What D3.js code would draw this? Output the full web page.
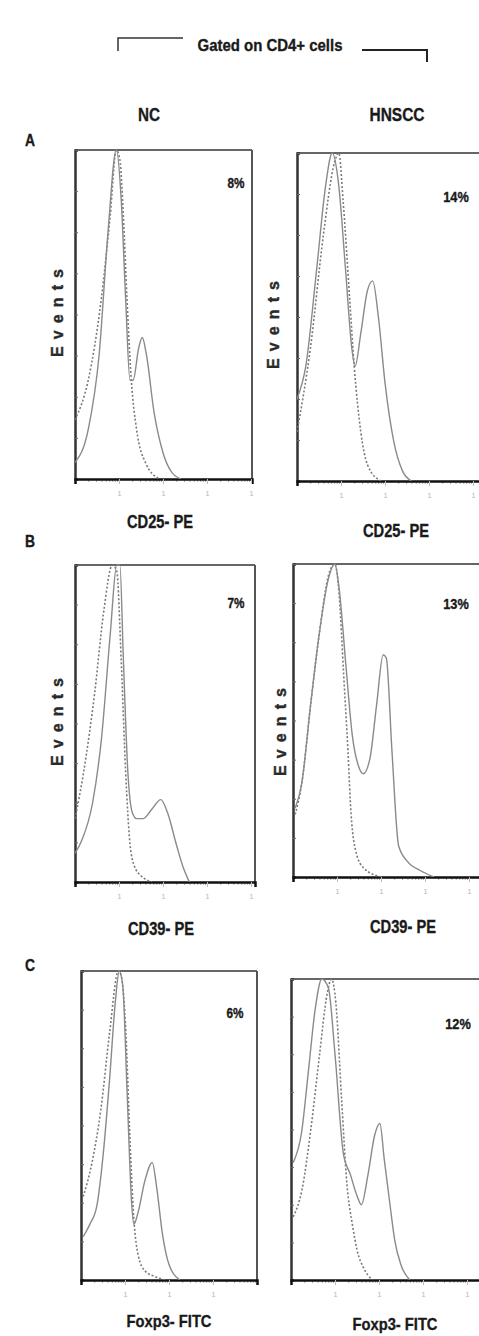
<!DOCTYPE html>
<html><head><meta charset="utf-8">
<script src="https://cdn.jsdelivr.net/npm/d3@7"></script>
<style>html,body{margin:0;padding:0;background:#fff;}svg{display:block;}</style>
</head><body>
<script>
// ---------- DATA (x = log10 fluorescence decades, y = % of peak events) ----------
const rows = ["A", "B", "C"];
const groups = ["NC", "HNSCC"];
const markers = ["CD25- PE", "CD39- PE", "Foxp3- FITC"];
const percents = [["8%", "14%"], ["7%", "13%"], ["6%", "12%"]];
const decadeTicks = [0, 1, 2, 3, 4];

// A - NC
const aNcStainedX = [0, 0.3, 0.55, 0.75, 0.94, 1.05, 1.15, 1.25, 1.32, 1.45, 1.53, 1.62, 1.8, 2.0, 2.2, 2.41];
const aNcStainedY = [5, 15, 38, 75, 100, 85, 55, 30, 30, 40, 43, 38, 20, 8, 2, 0];
const aNcIsoX = [0, 0.3, 0.6, 0.8, 0.94, 1.02, 1.1, 1.18, 1.28, 1.4, 1.6, 1.92];
const aNcIsoY = [18, 30, 55, 80, 100, 97, 80, 55, 30, 15, 5, 0];
// A - HNSCC
const aHnStainedX = [0, 0.2, 0.45, 0.65, 0.8, 0.95, 1.1, 1.25, 1.32, 1.45, 1.6, 1.72, 1.85, 2.0, 2.2, 2.4, 2.6];
const aHnStainedY = [25, 35, 65, 90, 100, 90, 65, 40, 35, 45, 58, 61, 50, 30, 12, 3, 0];
const aHnIsoX = [0, 0.3, 0.6, 0.85, 0.95, 1.05, 1.2, 1.3, 1.45, 1.6, 1.9];
const aHnIsoY = [15, 40, 75, 97, 100, 85, 55, 35, 15, 5, 0];
// B - NC
const bNcStainedX = [0, 0.15, 0.4, 0.6, 0.8, 0.95, 1.02, 1.1, 1.2, 1.3, 1.4, 1.55, 1.75, 1.95, 2.1, 2.3, 2.45, 2.6];
const bNcStainedY = [9, 13, 25, 45, 78, 100, 100, 70, 35, 22, 20, 20, 23, 26, 22, 12, 5, 0];
const bNcIsoX = [0, 0.2, 0.45, 0.65, 0.85, 0.95, 1.05, 1.15, 1.25, 1.35, 1.5, 1.75];
const bNcIsoY = [20, 35, 60, 85, 100, 98, 70, 35, 12, 5, 2, 0];
// B - HNSCC
const bHnStainedX = [0.05, 0.2, 0.4, 0.6, 0.8, 0.95, 1.05, 1.2, 1.35, 1.5, 1.6, 1.75, 1.9, 2.05, 2.12, 2.25, 2.4, 2.6, 2.9, 3.2];
const bHnStainedY = [22, 30, 55, 78, 95, 100, 92, 68, 45, 35, 33, 38, 55, 71, 70, 40, 10, 5, 2, 0];
const bHnIsoX = [0.05, 0.2, 0.4, 0.6, 0.8, 0.95, 1.05, 1.15, 1.25, 1.32, 1.45, 1.6, 2.0];
const bHnIsoY = [20, 30, 55, 78, 96, 100, 90, 65, 40, 20, 7, 3, 0];
// C - NC
const cNcStainedX = [0.05, 0.2, 0.36, 0.5, 0.65, 0.78, 0.87, 0.95, 1.05, 1.15, 1.2, 1.3, 1.45, 1.62, 1.72, 1.85, 2.0, 2.25];
const cNcStainedY = [14, 18, 24, 40, 65, 90, 100, 95, 60, 25, 18, 22, 32, 38, 30, 15, 5, 0];
const cNcIsoX = [0.05, 0.25, 0.45, 0.65, 0.85, 0.92, 1.02, 1.1, 1.2, 1.3, 1.45, 1.7, 1.9];
const cNcIsoY = [27, 38, 55, 80, 100, 98, 80, 50, 20, 8, 3, 1, 0];
// C - HNSCC
const cHnStainedX = [0.05, 0.24, 0.4, 0.55, 0.7, 0.85, 1.0, 1.19, 1.35, 1.5, 1.6, 1.75, 1.9, 2.02, 2.12, 2.25, 2.36, 2.5, 2.7];
const cHnStainedY = [39, 49, 70, 90, 100, 97, 75, 42, 35, 28, 25, 35, 48, 52, 40, 25, 13, 5, 0];
const cHnIsoX = [0.05, 0.25, 0.45, 0.65, 0.82, 0.92, 1.02, 1.15, 1.27, 1.4, 1.5, 1.65, 1.85];
const cHnIsoY = [21, 30, 50, 75, 95, 100, 92, 60, 32, 18, 10, 4, 0];

const seriesStained = [[aNcStainedX, aNcStainedY, aHnStainedX, aHnStainedY],
                       [bNcStainedX, bNcStainedY, bHnStainedX, bHnStainedY],
                       [cNcStainedX, cNcStainedY, cHnStainedX, cHnStainedY]];
const seriesIso = [[aNcIsoX, aNcIsoY, aHnIsoX, aHnIsoY],
                   [bNcIsoX, bNcIsoY, bHnIsoX, bHnIsoY],
                   [cNcIsoX, cNcIsoY, cHnIsoX, cHnIsoY]];

// ---------- LAYOUT ----------
const W = 479, H = 1336;
const boxes = [
  [{x0: 75, x1: 252, y0: 150, y1: 479}, {x0: 297, x1: 490, y0: 153, y1: 481}],
  [{x0: 75, x1: 255, y0: 565, y1: 882}, {x0: 293, x1: 490, y0: 564, y1: 877}],
  [{x0: 81, x1: 257, y0: 971, y1: 1280}, {x0: 291, x1: 490, y0: 979, y1: 1280}]
];
const decadePx = 44;
const FONT = "'Liberation Sans', Arial, sans-serif";

const svg = d3.select("body").append("svg").attr("width", W).attr("height", H)
  .style("font-family", FONT);

function txt(x, y, s, size, len, anchor = "middle", fill = "#1a1a1a") {
  const t = svg.append("text").attr("x", x).attr("y", y).attr("text-anchor", anchor)
    .attr("font-size", size).attr("font-weight", "bold").attr("fill", fill)
    .attr("stroke", fill).attr("stroke-width", 0.35).text(s);
  if (len) t.attr("textLength", len).attr("lengthAdjust", "spacingAndGlyphs");
  return t;
}

// header
txt(270, 51, "Gated on CD4+ cells", 17, 145);
svg.append("path").attr("d", "M118,51 L118,38 L183,38").attr("fill", "none").attr("stroke", "#333").attr("stroke-width", 1.5);
svg.append("path").attr("d", "M362,50 L427,50 L427,62").attr("fill", "none").attr("stroke", "#222").attr("stroke-width", 2);
txt(149, 121, "NC", 19, 22);
txt(397, 121, "HNSCC", 19, 55);

const rowLabelY = [146, 547, 971];
const pctPos = [[[236, 188], [456, 202]], [[236, 608], [456, 609]], [[235, 1018], [458, 1029]]];
const xLabPos = [[[160, 528], [396, 537]], [[161, 935], [403, 933]], [[169, 1327], [395, 1330]]];
const xLabLen = [66, 66, 85];
const eventsPos = [[[57, 313], [273, 325]], [[57, 722], [280, 732]], null];

rows.forEach((r, ri) => {
  txt(30, rowLabelY[ri], r, 16, 10);
  groups.forEach((g, gi) => {
    const b = boxes[ri][gi];
    const x = d3.scaleLinear().domain([0, (b.x1 - b.x0) / decadePx]).range([b.x0, b.x1]);
    const y = d3.scaleLinear().domain([0, 100]).range([b.y1, b.y0]);
    const clipId = `clip-${ri}-${gi}`;
    svg.append("clipPath").attr("id", clipId).append("rect")
      .attr("x", b.x0).attr("y", b.y0 - 2).attr("width", b.x1 - b.x0).attr("height", b.y1 - b.y0 + 2);

    // frame: top + right grey, left dark, bottom black
    svg.append("line").attr("x1", b.x0).attr("x2", b.x1).attr("y1", b.y0).attr("y2", b.y0)
      .attr("stroke", "#666").attr("stroke-width", 2);
    svg.append("line").attr("x1", b.x1).attr("x2", b.x1).attr("y1", b.y0).attr("y2", b.y1)
      .attr("stroke", "#555").attr("stroke-width", 2);

    // y axis (inner minor ticks)
    const yAx = svg.append("g").attr("transform", `translate(${b.x0},0)`)
      .call(d3.axisLeft(y).tickValues(d3.range(0, 101, 12.5)).tickSize(-3).tickFormat(""));
    yAx.selectAll("path").attr("stroke", "#333").attr("stroke-width", 2.5);
    yAx.selectAll("line").attr("stroke", "#666");

    // x axis (log decades, faint labels)
    const maxDec = (b.x1 - b.x0) / decadePx;
    const minor = [];
    decadeTicks.forEach(d => { for (let k = 2; k < 10; k++) { const v = d + Math.log10(k); if (v < maxDec) minor.push(v); } });
    const xMinor = svg.append("g").attr("transform", `translate(0,${b.y1})`)
      .call(d3.axisBottom(x).tickValues(minor).tickSize(3).tickFormat(""));
    xMinor.selectAll("path").remove();
    xMinor.selectAll("line").attr("stroke", "#aaa");
    const xAx = svg.append("g").attr("transform", `translate(0,${b.y1})`)
      .call(d3.axisBottom(x).tickValues(decadeTicks.filter(d => d > 0 && d < maxDec)).tickSize(5).tickPadding(6)
        .tickFormat(d => "1"));
    xAx.selectAll("path").attr("stroke", "#111").attr("stroke-width", 2.5);
    xAx.selectAll("line").attr("stroke", "#bbb");
    xAx.selectAll("text").attr("fill", "#bbb").attr("font-size", 8).attr("font-family", FONT);

    // curves
    const line = d3.line().x(d => x(d[0])).y(d => y(d[1])).curve(d3.curveMonotoneX);
    const [isx, isy] = [seriesIso[ri][gi * 2], seriesIso[ri][gi * 2 + 1]];
    const [stx, sty] = [seriesStained[ri][gi * 2], seriesStained[ri][gi * 2 + 1]];
    const gC = svg.append("g").attr("clip-path", `url(#${clipId})`);
    gC.append("path").datum(isx.map((v, i) => [v, isy[i]])).attr("d", line)
      .attr("fill", "none").attr("stroke", "#7a7a7a").attr("stroke-width", 1.6).attr("stroke-dasharray", "2,2");
    gC.append("path").datum(stx.map((v, i) => [v, sty[i]])).attr("d", line)
      .attr("fill", "none").attr("stroke", "#8a8a8a").attr("stroke-width", 1.4);

    // labels
    const pp = pctPos[ri][gi];
    txt(pp[0], pp[1], percents[ri][gi], 14, percents[ri][gi].length * 8.5);
    const xl = xLabPos[ri][gi];
    txt(xl[0], xl[1], markers[ri], ri === 2 ? 17 : 18, xLabLen[ri]);
    if (eventsPos[ri]) {
      const ep = eventsPos[ri][gi];
      svg.append("text").attr("transform", `translate(${ep[0] + 6},${ep[1]}) rotate(-90)`)
        .attr("text-anchor", "middle").attr("font-size", 16).attr("font-weight", "bold").attr("fill", "#2a2a2a")
        .attr("stroke", "#2a2a2a").attr("stroke-width", 0.4)
        .attr("textLength", 88).attr("lengthAdjust", "spacing").text("Events");
    }
  });
});
</script>
</body></html>
